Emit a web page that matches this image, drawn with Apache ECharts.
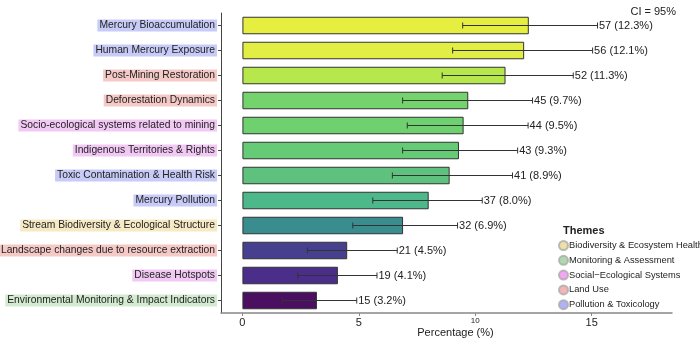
<!DOCTYPE html>
<html>
<head>
<meta charset="utf-8">
<script src="https://cdn.jsdelivr.net/npm/echarts@6/dist/echarts.min.js"></script>
<style>
  html, body { margin: 0; padding: 0; background: #fff; }
  #container { width: 700px; height: 342px; }
</style>
</head>
<body>
<div id="container"></div>
<script>
// 主题分类 topics, top to bottom
var categories = ['Mercury Bioaccumulation', 'Human Mercury Exposure', 'Post-Mining Restoration',
	'Deforestation Dynamics', 'Socio-ecological systems related to mining', 'Indigenous Territories & Rights',
	'Toxic Contamination & Health Risk', 'Mercury Pollution', 'Stream Biodiversity & Ecological Structure',
	'Landscape changes due to resource extraction', 'Disease Hotspots', 'Environmental Monitoring & Impact Indicators'];
var categoryThemes = ['poll', 'poll', 'land', 'land', 'soc', 'soc', 'poll', 'poll', 'bio', 'land', 'soc', 'mon'];
var counts = [57, 56, 52, 45, 44, 43, 41, 37, 32, 21, 19, 15];
var percents = [12.3, 12.1, 11.3, 9.7, 9.5, 9.3, 8.9, 8.0, 6.9, 4.5, 4.1, 3.2];
var ciLower = [9.46, 9.03, 8.58, 6.88, 7.08, 6.88, 6.44, 5.6, 4.74, 2.79, 2.38, 1.72];
var ciUpper = [15.25, 15.04, 14.21, 12.46, 12.27, 11.82, 11.6, 10.3, 9.24, 6.65, 5.78, 4.91];
var xTicks = [0, 5, 10, 15];
var themeNames = ['Biodiversity & Ecosystem Health', 'Monitoring & Assessment', 'Social\u2212Ecological Systems', 'Land Use', 'Pollution & Toxicology'];
var themeKeys = ['bio', 'mon', 'soc', 'land', 'poll'];

// styles
var barColors = ['#e6ef3f', '#e2ee43', '#b6e84c', '#74d36c', '#6ed06f', '#66cb76',
	'#5ec27e', '#4db88a', '#3a8d8f', '#46408f', '#4a2e89', '#4a0f60'];
var themeBg = { bio: '#f6eac4', mon: '#d3ebd0', soc: '#f2c8f4', land: '#f4c9c6', poll: '#c8cbf7' };
var themeDot = { bio: '#ebd88f', mon: '#98cf98', soc: '#f28ff2', land: '#f2a3a3', poll: '#9d9ff2' };
var FONT = 'Liberation Sans, Arial, sans-serif';

var rich = {};
themeKeys.forEach(function(k) {
	rich[k] = { backgroundColor: themeBg[k], padding: [1, 2, 1, 2], fontSize: 10.3, color: '#222', fontFamily: FONT };
});

var errData = [];
for (var i = 0; i < categories.length; i++) {
	errData.push([i, ciLower[i], ciUpper[i]]);
}

function renderErr(params, api) {
	var cat = api.value(0);
	var lo = api.coord([api.value(1), cat]);
	var hi = api.coord([api.value(2), cat]);
	var h = 3;
	var st = { stroke: '#333', lineWidth: 1 };
	var idx = params.dataIndex;
	return {
		type: 'group',
		children: [
			{ type: 'line', shape: { x1: lo[0], y1: lo[1], x2: hi[0], y2: hi[1] }, style: st },
			{ type: 'line', shape: { x1: lo[0], y1: lo[1] - h, x2: lo[0], y2: lo[1] + h }, style: st },
			{ type: 'line', shape: { x1: hi[0], y1: hi[1] - h, x2: hi[0], y2: hi[1] + h }, style: st },
			{ type: 'text', x: hi[0] + 1.5, y: hi[1] + 0.5, style: {
				text: counts[idx] + ' (' + percents[idx].toFixed(1) + '%)',
				fill: '#222', font: '11px ' + FONT, verticalAlign: 'middle', align: 'left' } }
		]
	};
}

var series = [
	{
		type: 'bar',
		data: percents,
		barWidth: 17.5,
		itemStyle: {
			color: function(p) { return barColors[p.dataIndex]; },
			borderColor: '#333',
			borderWidth: 1
		},
		silent: true,
		z: 2
	},
	{
		type: 'custom',
		data: errData,
		renderItem: renderErr,
		encode: { x: [1, 2], y: 0 },
		silent: true,
		z: 3
	}
];
themeNames.forEach(function(n, k) {
	series.push({
		type: 'scatter', name: n, data: [],
		itemStyle: { color: themeDot[themeKeys[k]], borderColor: '#aaa', borderWidth: 0.5 }
	});
});

var dom = document.getElementById('container');
var myChart = echarts.init(dom);
var option = {
	animation: false,
	backgroundColor: '#fff',
	title: [
		{ text: 'CI = 95%', right: 19, top: 1, textStyle: { fontSize: 11, fontWeight: 'normal', color: '#222', fontFamily: FONT } },
		{ text: 'Themes', left: 558, top: 220, textStyle: { fontSize: 11, fontWeight: 'bold', color: '#222', fontFamily: FONT } }
	],
	legend: {
		data: themeNames,
		orient: 'vertical',
		left: 558,
		top: 240,
		icon: 'circle',
		itemWidth: 9,
		itemHeight: 9,
		itemGap: 3.8,
		padding: 0,
		textStyle: { fontSize: 9.3, color: '#222', fontFamily: FONT, padding: [0, 0, 0, -4] },
		selectedMode: false
	},
	grid: { left: 221, right: 28, top: 13, height: 300, containLabel: false, outerBoundsMode: 'none' },
	xAxis: {
		type: 'value',
		min: -0.92,
		max: 18.45,
		name: 'Percentage (%)',
		nameLocation: 'middle',
		nameGap: 14,
		nameMoveOverlap: false,
		nameTextStyle: { fontSize: 11, color: '#222', fontFamily: FONT, verticalAlign: 'top', padding: [0, 0, 0, 18] },
		splitLine: { show: false },
		axisLine: { show: true, lineStyle: { color: '#888', width: 1.5 } },
		axisTick: { show: true, customValues: xTicks, length: 3, lineStyle: { color: '#888' } },
		axisLabel: {
			customValues: xTicks,
			margin: 4,
			fontSize: 11,
			color: '#222',
			fontFamily: FONT,
			formatter: function(v) { return v === 10 ? '{s|10}' : '' + v; },
			rich: { s: { fontSize: 8, color: '#222', fontFamily: FONT } }
		}
	},
	yAxis: {
		type: 'category',
		data: categories,
		inverse: true,
		axisLine: { show: true, onZero: false, lineStyle: { color: '#444', width: 1 } },
		axisTick: { show: true, alignWithLabel: true, length: 3, lineStyle: { color: '#444' } },
		axisLabel: {
			margin: 4,
			formatter: function(v, idx) { return '{' + categoryThemes[idx] + '|' + v + '}'; },
			rich: rich
		}
	},
	series: series
};
if (option && typeof option === 'object') {
	myChart.setOption(option, true);
}
</script>
</body>
</html>
